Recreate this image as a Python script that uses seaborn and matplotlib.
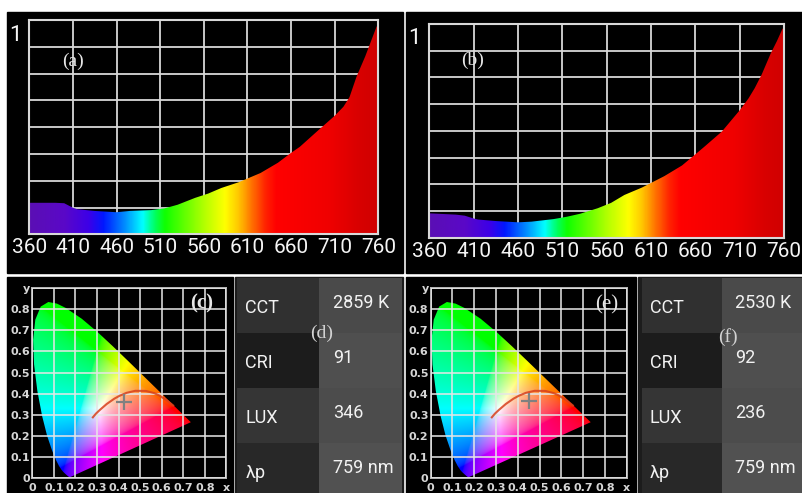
import numpy as np
import seaborn as sns
import matplotlib.pyplot as plt
from matplotlib.colors import LinearSegmentedColormap
from matplotlib.patches import Rectangle, Polygon

# spectra (relative intensity)
wl = [360, 390, 400, 410, 415, 435, 460, 475, 500, 515, 530, 550, 565, 580,
      600, 625, 645, 660, 670, 690, 710, 720, 727, 735, 745, 752, 758, 760]
spec_a = [0.147, 0.147, 0.145, 0.124, 0.117, 0.109, 0.103, 0.109, 0.113, 0.121,
          0.138, 0.170, 0.190, 0.216, 0.243, 0.286, 0.334, 0.380, 0.408, 0.481,
          0.553, 0.595, 0.640, 0.735, 0.830, 0.905, 0.969, 0.977]
spec_b = [0.114, 0.108, 0.103, 0.090, 0.085, 0.078, 0.072, 0.075, 0.087, 0.098,
          0.112, 0.138, 0.163, 0.200, 0.235, 0.288, 0.338, 0.390, 0.425, 0.497,
          0.596, 0.652, 0.700, 0.765, 0.862, 0.920, 0.975, 0.987]
wl_ticks = [360, 410, 460, 510, 560, 610, 660, 710, 760]

# CIE 1931 spectral locus
locus_x = [0.1741, 0.1714, 0.1644, 0.1566, 0.1440, 0.1355, 0.1241, 0.1096, 0.0913,
           0.0687, 0.0454, 0.0235, 0.0082, 0.0039, 0.0139, 0.0389, 0.0743, 0.1142,
           0.1547, 0.2296, 0.3016, 0.3731, 0.4441, 0.5125, 0.5752, 0.6270, 0.6915,
           0.7190, 0.7347]
locus_y = [0.0050, 0.0051, 0.0109, 0.0177, 0.0297, 0.0399, 0.0578, 0.0868, 0.1327,
           0.2007, 0.2950, 0.4127, 0.5384, 0.6548, 0.7502, 0.8120, 0.8338, 0.8262,
           0.8059, 0.7543, 0.6923, 0.6245, 0.5547, 0.4866, 0.4242, 0.3725, 0.3083,
           0.2809, 0.2653]
# planckian locus (10000 K -> 1000 K)
planck_x = [0.2807, 0.2950, 0.3135, 0.3451, 0.3805, 0.4053, 0.4369, 0.4769,
            0.5266, 0.5646, 0.5857, 0.6251, 0.6528]
planck_y = [0.2884, 0.3059, 0.3237, 0.3516, 0.3768, 0.3907, 0.4041, 0.4137,
            0.4133, 0.4029, 0.3931, 0.3674, 0.3444]
point_c = (0.427, 0.360)
point_e = (0.450, 0.365)
xy_ticks = [0, 0.1, 0.2, 0.3, 0.4, 0.5, 0.6, 0.7, 0.8, 0.9]
x_labels = ['0', '0.1', '0.2', '0.3', '0.4', '0.5', '0.6', '0.7', '0.8', 'x']
y_labels = ['0', '0.1', '0.2', '0.3', '0.4', '0.5', '0.6', '0.7', '0.8', 'y']

# tables
row_names = ['CCT', 'CRI', 'LUX', 'λp']
values_d = ['2859 K', '91', '346', '759 nm']
values_f = ['2530 K', '92', '236', '759 nm']
shade_left = [0.19, 0.11, 0.21, 0.16]
shade_right = [0.29, 0.31, 0.30, 0.32]

W, H = 803, 493
SANS = ['Roboto', 'DejaVu Sans']
SERIF = ['Liberation Serif', 'DejaVu Serif']


def box(x0, y0, x1, y1):
    return [x0 / W, 1 - y1 / H, (x1 - x0) / W, (y1 - y0) / H]


fig = plt.figure(figsize=(W / 100, H / 100), dpi=100, facecolor='white')

# panel backgrounds
for x0, y0, x1, y1, c in [(7, 12, 402.7, 273, 'black'), (406, 12, 803, 273, 'black'),
                          (7, 277, 233, 493, 'black'), (235, 277, 403, 493, '#1c1c1c'),
                          (406, 277, 636, 493, 'black'), (638, 277, 803, 493, '#1c1c1c')]:
    fig.add_artist(Rectangle((x0 / W, 1 - y1 / H), (x1 - x0) / W, (y1 - y0) / H,
                             transform=fig.transFigure, color=c, zorder=-5))

spec_cmap = LinearSegmentedColormap.from_list('spec', [
    (0.0, '#5a0fb4'), (0.10, '#5a08c8'), (0.17, '#3c00e8'), (0.2125, '#0018ff'),
    (0.275, '#0090ff'), (0.325, '#00ffff'), (0.36, '#00ff60'), (0.39, '#10ff00'),
    (0.5, '#b0ff00'), (0.5625, '#ffff00'), (0.6, '#ffc800'), (0.64, '#ff7000'),
    (0.68, '#ff2000'), (0.71, '#ff0000'), (0.86, '#f00000'), (0.95, '#d80000'),
    (1.0, '#d00000')])


def spectrum(rect, vals, tag, tag_xy):
    ax = fig.add_axes(box(*rect), facecolor='black')
    poly = ax.fill_between(wl, vals, 0, color='none', lw=0)
    grad = np.linspace(360, 760, 800)[None, :]
    im = ax.imshow(grad, extent=[360, 760, 0, 1], aspect='auto', cmap=spec_cmap,
                   vmin=360, vmax=760, origin='lower', zorder=1)
    im.set_clip_path(poly.get_paths()[0], transform=ax.transData)
    ax.set_xlim(360, 760)
    ax.set_ylim(0, 1)
    ax.set_xticks(wl_ticks)
    ax.set_xticklabels([str(t) for t in wl_ticks], fontfamily=SANS, fontsize=15)
    ax.set_yticks(np.arange(0, 1.01, 0.125))
    ax.set_yticklabels([])
    ax.grid(True, color='#d8d8d8', lw=1.3)
    ax.set_axisbelow(True)
    ax.tick_params(length=0, colors='#f4f4f4', pad=3)
    for s in ax.spines.values():
        s.set_color('#d8d8d8')
        s.set_linewidth(1.5)
    ax.text(-0.041, 0.93, '1', transform=ax.transAxes, color='#f4f4f4',
            fontfamily=SANS, fontsize=16, ha='center', va='center')
    fig.text(tag_xy[0] / W, 1 - tag_xy[1] / H, tag, color='#e6e6e6',
             fontfamily=SERIF, fontsize=14, ha='center', va='center')


# chromaticity colour field
gx, gy = np.meshgrid(np.linspace(0.0, 0.9, 360), np.linspace(0.002, 0.9, 360))
cX = gx / gy
cZ = (1 - gx - gy) / gy
r = 3.2406 * cX - 1.5372 - 0.4986 * cZ
g = -0.9689 * cX + 1.8758 + 0.0415 * cZ
b = 0.0557 * cX - 0.2040 + 1.0570 * cZ
rgb = np.clip(np.dstack([r, g, b]), 0, None)
rgb = rgb / np.maximum(rgb.max(axis=2, keepdims=True), 1e-6)
rgb = rgb ** (1 / 2.2)


def cie(rect, point, tag, tag_xy, weight):
    ax = fig.add_axes(box(*rect), facecolor='black')
    im = ax.imshow(rgb, extent=[0, 0.9, 0, 0.9], origin='lower', zorder=0,
                   aspect='auto')
    shape = Polygon(np.column_stack([locus_x, locus_y]), closed=True,
                    fc='none', ec='none', transform=ax.transData)
    ax.add_patch(shape)
    im.set_clip_path(shape)
    sns.lineplot(x=planck_x, y=planck_y, ax=ax, sort=False, estimator=None,
                 color='#d8401c', lw=1.5, alpha=0.85, zorder=3)
    sns.scatterplot(x=[point[0]], y=[point[1]], ax=ax, marker='+', s=140,
                    color='#808080', linewidth=1.6, zorder=4)
    ax.set_xlim(0, 0.9)
    ax.set_ylim(0, 0.9)
    ax.set_xlabel('')
    ax.set_ylabel('')
    ax.set_xticks(xy_ticks)
    ax.set_xticklabels(x_labels)
    ax.set_yticks(xy_ticks)
    ax.set_yticklabels(y_labels)
    ax.grid(True, color='#e6e6e6', lw=1.4, alpha=0.8)
    ax.set_axisbelow(False)
    ax.tick_params(length=0, colors='#d6d6d6', labelsize=8)
    ax.tick_params(axis='x', pad=3.5)
    ax.tick_params(axis='y', pad=1.5)
    for lab in ax.get_xticklabels() + ax.get_yticklabels():
        lab.set_fontweight('bold')
    for s in ax.spines.values():
        s.set_color('#b8b8b8')
        s.set_linewidth(1.4)
    fig.text(tag_xy[0] / W, 1 - tag_xy[1] / H, tag, color='#e6e6e6',
             fontfamily=SERIF, fontsize=15, fontweight=weight, ha='center', va='center')


def table(rect, values, tag, tag_xy):
    ax = fig.add_axes(box(*rect))
    shade = np.array([shade_left, shade_right]).T
    sns.heatmap(shade, ax=ax, cmap='gray', vmin=0, vmax=1, cbar=False,
                xticklabels=False, yticklabels=False)
    for i, (name, val) in enumerate(zip(row_names, values)):
        ax.text(0.1, i + 0.55, name, color='#f2f2f2', fontfamily=SANS,
                fontsize=13, ha='left', va='center')
        ax.text(1.16, i + 0.46, val, color='#f2f2f2', fontfamily=SANS,
                fontsize=13, ha='left', va='center')
    fig.text(tag_xy[0] / W, 1 - tag_xy[1] / H, tag, color='#d2d2d2',
             fontfamily=SERIF, fontsize=14, ha='center', va='center')


spectrum((29.3, 20, 378.3, 234.3), spec_a, '(a)', (73, 61))
spectrum((429.3, 24, 784, 237.7), spec_b, '(b)', (473, 60))
cie((32.3, 288, 226.5, 478.3), point_c, '(c)', (202, 303), 'bold')
cie((430.7, 288, 626.7, 478.3), point_e, '(e)', (607, 305), 'normal')
table((237, 278, 402, 498), values_d, '(d)', (322, 333))
table((641.7, 278, 803, 498), values_f, '(f)', (728, 337))

fig.savefig('out.png', dpi=100, facecolor='white')
